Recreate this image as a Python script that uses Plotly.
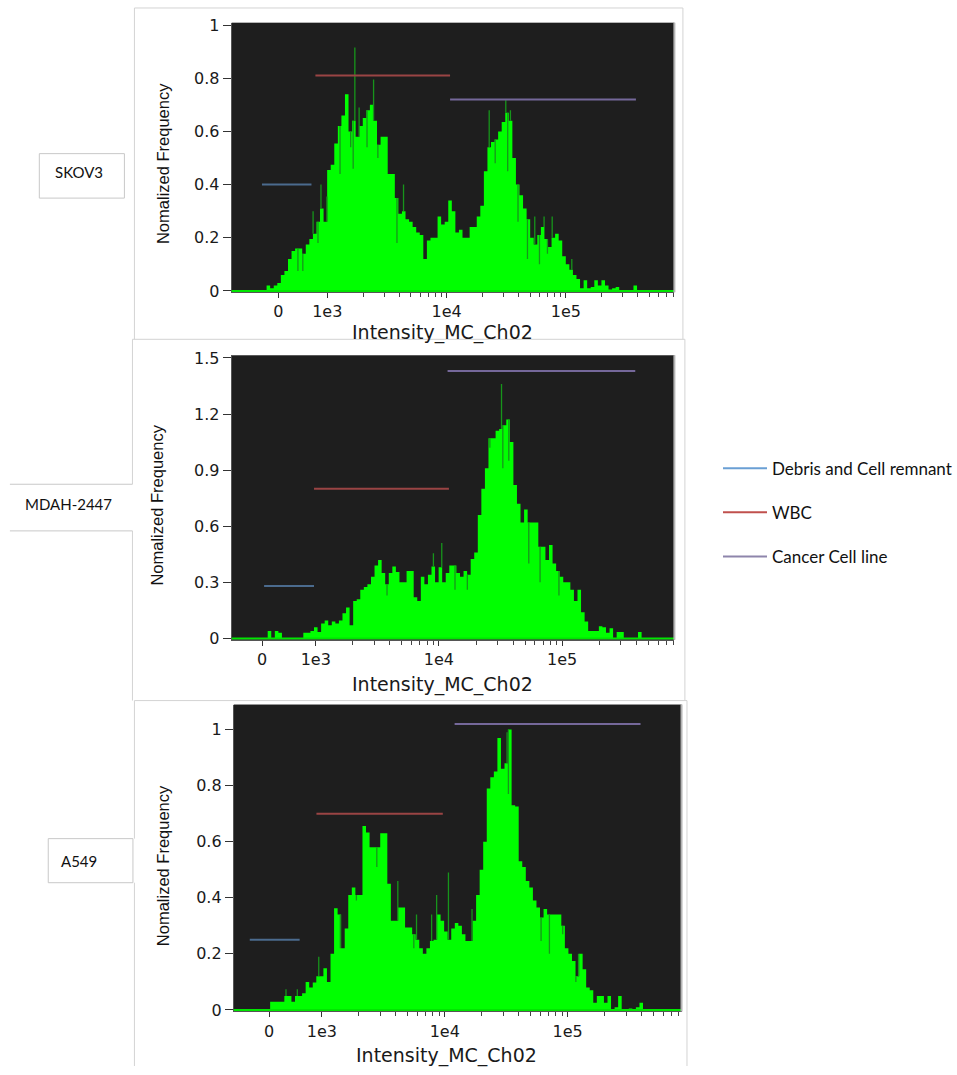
import math
import plotly.graph_objects as go

W, H = 957, 1075

# ---------------------------------------------------------------------------
# Histogram data: normalized frequency per bin. Bins are evenly spaced on the
# biexponential display scale (linear below 1e3, logarithmic above).
# ---------------------------------------------------------------------------
freq_skov3 = [
    0.02, 0.01, 0.02, 0.03, 0.06, 0.075, 0.12, 0.15, 0.16, 0.16,
    0.14, 0.175, 0.195, 0.215, 0.26, 0.31, 0.26, 0.455, 0.475, 0.555,
    0.62, 0.66, 0.74, 0.60, 0.64, 0.58, 0.62, 0.65, 0.68, 0.70,
    0.64, 0.55, 0.58, 0.58, 0.44, 0.44, 0.35, 0.29, 0.30, 0.27,
    0.26, 0.24, 0.22, 0.21, 0.12, 0.19, 0.20, 0.20, 0.28, 0.25,
    0.26, 0.34, 0.30, 0.22, 0.23, 0.20, 0.20, 0.24, 0.24, 0.28,
    0.32, 0.45, 0.54, 0.56, 0.57, 0.60, 0.635, 0.67, 0.64, 0.50,
    0.40, 0.36, 0.31, 0.27, 0.20, 0.175, 0.21, 0.24, 0.195, 0.165,
    0.20, 0.215, 0.19, 0.13, 0.10, 0.08, 0.06, 0.045, 0.01, 0.04,
    0.01, 0.015, 0.04, 0.02, 0.04, 0.02, 0.005, 0.01, 0.015, 0.0,
    0.0, 0.0, 0.0, 0.02, 0.0,
]
freq_mdah2447 = [
    0.04, 0.0, 0.04, 0.03, 0.0, 0.0, 0.0, 0.0, 0.0, 0.0,
    0.03, 0.03, 0.04, 0.06, 0.035, 0.08, 0.096, 0.07, 0.09, 0.08,
    0.096, 0.135, 0.165, 0.07, 0.20, 0.21, 0.26, 0.275, 0.29, 0.33,
    0.39, 0.42, 0.35, 0.29, 0.35, 0.385, 0.355, 0.30, 0.30, 0.36,
    0.36, 0.22, 0.20, 0.33, 0.29, 0.34, 0.385, 0.30, 0.38, 0.30,
    0.35, 0.39, 0.39, 0.35, 0.33, 0.36, 0.34, 0.425, 0.46, 0.66,
    0.80, 0.91, 1.07, 1.07, 1.11, 1.12, 1.14, 1.17, 1.05, 0.82,
    0.72, 0.62, 0.69, 0.62, 0.62, 0.62, 0.49, 0.49, 0.42, 0.50,
    0.40, 0.36, 0.33, 0.30, 0.30, 0.26, 0.20, 0.26, 0.14, 0.09,
    0.04, 0.04, 0.04, 0.065, 0.06, 0.03, 0.055, 0.0, 0.035, 0.035,
    0.0, 0.0, 0.0, 0.0, 0.035,
]
freq_a549 = [
    0.029, 0.029, 0.029, 0.029, 0.05, 0.05, 0.029, 0.05, 0.05, 0.06,
    0.10, 0.08, 0.098, 0.12, 0.12, 0.149, 0.10, 0.20, 0.363, 0.34,
    0.22, 0.29, 0.41, 0.437, 0.41, 0.41, 0.656, 0.633, 0.58, 0.58,
    0.58, 0.63, 0.63, 0.45, 0.318, 0.318, 0.365, 0.365, 0.294, 0.294,
    0.27, 0.25, 0.22, 0.20, 0.22, 0.246, 0.25, 0.34, 0.318, 0.28,
    0.25, 0.29, 0.31, 0.30, 0.27, 0.246, 0.246, 0.318, 0.41, 0.50,
    0.60, 0.79, 0.83, 0.85, 0.97, 0.86, 0.88, 1.0, 0.73, 0.725,
    0.53, 0.51, 0.46, 0.437, 0.39, 0.365, 0.33, 0.36, 0.34, 0.34,
    0.34, 0.34, 0.30, 0.22, 0.20, 0.175, 0.12, 0.20, 0.145, 0.08,
    0.07, 0.026, 0.05, 0.05, 0.026, 0.05, 0.0, 0.01, 0.05, 0.0,
    0.0, 0.005, 0.0, 0.01, 0.026, 0.0,
]

# Very narrow bins (intensity, normalized frequency) that render as thin lines
narrow_up_skov3 = [(710, 0.30), (871, 0.40), (993, 0.355), (1702, 0.916), (1849, 0.69),
                   (2443, 0.795), (4355, 0.40), (22750, 0.68), (31330, 0.717), (34270, 0.68),
                   (54800, 0.28), (65600, 0.28), (76700, 0.28), (112000, 0.12)]
narrow_low_skov3 = [(400, 0.075), (500, 0.075), (810, 0.18), (1279, 0.44), (1570, 0.54),
                    (1648, 0.46), (2153, 0.54), (2655, 0.50), (3837, 0.18), (25530, 0.48),
                    (32510, 0.45), (39660, 0.26), (47600, 0.12), (60000, 0.10), (70000, 0.14)]
narrow_up_mdah2447 = [(9020, 0.455), (10540, 0.51), (32200, 1.36)]
narrow_low_mdah2447 = [(3790, 0.23), (13500, 0.26), (17000, 0.26), (25900, 1.02), (33000, 0.91),
                       (36900, 0.95), (53600, 0.40), (66200, 0.30), (94200, 0.23)]
narrow_up_a549 = [(321, 0.074), (535, 0.074), (941, 0.19), (4150, 0.46), (5890, 0.34),
                  (7820, 0.34), (8590, 0.41), (10720, 0.49), (16670, 0.36), (32140, 0.99),
                  (122700, 0.20)]
narrow_low_a549 = [(1413, 0.22), (1910, 0.39), (2800, 0.51), (5600, 0.22), (21900, 0.66),
                   (32960, 0.77), (60800, 0.246), (71100, 0.20), (91200, 0.27), (116700, 0.10)]

# Gates: (low intensity, high intensity, drawn level), in the order of gate_names
gate_names = ["Debris and Cell remnant", "WBC", "Cancer Cell line"]
gates_skov3 = [(-335, 677, 0.40), (757, 10690, 0.81), (10690, 386000, 0.72)]
gates_mdah2447 = [(39, 968, 0.28), (968, 12050, 0.80), (11750, 392000, 1.43)]
gates_a549 = [(-365, 579, 0.25), (897, 9640, 0.70), (12030, 392000, 1.02)]

samples = ["SKOV3", "MDAH-2447", "A549"]
x_tick_values = [0, 1e3, 1e4, 1e5]
x_tick_labels = ["0", "1e3", "1e4", "1e5"]
y_dticks = [0.2, 0.3, 0.2]
y_tops = [1.009, 1.514, 1.089]

# Display-scale settings per panel
lin_width = [0.41, 0.436, 0.43]          # width of the linear region (0..1e3), in decades
bin_start = [-0.0985, 0.0462, 0.0089]    # left edge of the first bin on the display scale
bin_step = [0.02985, 0.0289, 0.0289]     # bin width on the display scale
x_view = [(-0.391, 3.319), (-0.246, 3.347), (-0.287, 3.357)]

# Panel placement in pixels: (left, top, right, bottom)
plot_px = [(233.9, 15.9, 680.8, 289.3), (233.9, 353.2, 680.8, 641.8), (236.0, 707.4, 688.0, 1018.7)]

GREEN = "#00ff00"
SPIKE = "#17951b"
gate_colors = ["#4b6b8e", "#9a4444", "#75689a"]
legend_colors = ["#6a9fd4", "#c0504d", "#8e85ab"]
TICK_FONT = dict(family="DejaVu Sans", size=16, color="#1a1a1a")


def disp(x, lin):
    """Biexponential display transform: linear near zero, log10 above 1e3."""
    if x < 1000:
        return lin * x / 1000.0
    return lin + math.log10(x / 1000.0)


def px_x(p):
    return p / W


def px_y(p):
    return 1 - p / H


freqs = [freq_skov3, freq_mdah2447, freq_a549]
ups = [narrow_up_skov3, narrow_up_mdah2447, narrow_up_a549]
lows = [narrow_low_skov3, narrow_low_mdah2447, narrow_low_a549]
gates = [gates_skov3, gates_mdah2447, gates_a549]

fig = go.Figure()
shapes = []
annotations = []
layout_axes = {}

for i in range(3):
    s = "" if i == 0 else str(i + 1)
    xa, ya = "x" + s, "y" + s
    lin = lin_width[i]
    heights = freqs[i]
    start, step = bin_start[i], bin_step[i]

    # main histogram as a filled step outline
    xs = [start + k * step for k in range(len(heights) + 1)]
    ys = list(heights) + [heights[-1]]
    fig.add_trace(go.Scatter(
        x=xs, y=ys, mode="lines", line=dict(shape="hv", width=0, color=GREEN),
        fill="tozeroy", fillcolor=GREEN, xaxis=xa, yaxis=ya,
        hoverinfo="skip", showlegend=False))

    # narrow bins: visible only where they differ from the surrounding bin
    sx, sy = [], []
    for pts, upward in ((ups[i], True), (lows[i], False)):
        for inten, val in pts:
            u = disp(inten, lin)
            k = int(math.floor((u - start) / step))
            base = heights[k] if 0 <= k < len(heights) else 0.0
            if (upward and val > base) or (not upward and val < base):
                sx += [u, u, None]
                sy += [base, val, None]
    fig.add_trace(go.Scatter(
        x=sx, y=sy, mode="lines", line=dict(color=SPIKE, width=1.3),
        xaxis=xa, yaxis=ya, hoverinfo="skip", showlegend=False))

    # gate lines
    for g, (lo, hi, lvl) in enumerate(gates[i]):
        fig.add_trace(go.Scatter(
            x=[disp(lo, lin), disp(hi, lin)], y=[lvl, lvl], mode="lines",
            line=dict(color=gate_colors[g], width=2), xaxis=xa, yaxis=ya,
            hoverinfo="skip", showlegend=False))

    # axes
    left, top, right, bottom = plot_px[i]
    x0, x1 = x_view[i]
    major = [disp(v, lin) for v in x_tick_values]
    minor = []
    for dec in (1e3, 1e4, 1e5):
        for m in range(2, 10):
            u = disp(dec * m, lin)
            if u < x1:
                minor.append(u)
    layout_axes["xaxis" + s] = dict(
        domain=[px_x(left), px_x(right)], range=[x0, x1], anchor=ya,
        tickmode="array", tickvals=major, ticktext=x_tick_labels,
        ticks="outside", ticklen=5, tickwidth=1, tickcolor="#333",
        ticklabelstandoff=0,
        minor=dict(tickmode="array", tickvals=minor, ticks="outside",
                   ticklen=4, tickwidth=1, tickcolor="#444"),
        showline=True, linecolor="#555", linewidth=1, showgrid=False, zeroline=False,
        tickfont=TICK_FONT, fixedrange=True)
    layout_axes["yaxis" + s] = dict(
        domain=[px_y(bottom), px_y(top)], range=[-0.005 * y_tops[i], y_tops[i]], anchor=xa,
        tick0=0, dtick=y_dticks[i], ticks="outside", ticklen=8, tickwidth=1, tickcolor="#333",
        showline=True, linecolor="#555", linewidth=1, showgrid=False, zeroline=False,
        tickfont=TICK_FONT, fixedrange=True)

    # baseline of the histogram and right-hand plot border
    shapes.append(dict(type="line", xref=xa + " domain", yref=ya, x0=0, x1=1, y0=0, y1=0,
                       line=dict(color="#00e600", width=2)))
    shapes.append(dict(type="line", xref=xa + " domain", yref=ya + " domain", x0=1, x1=1,
                       y0=0, y1=1, line=dict(color="#b5b5b5", width=2)))

# axis titles
ytitle_pos = [(164, 158.8), (158.6, 505.5), (164, 870.9)]
xtitle_pos = [(447, 330), (447, 687), (451, 1063)]
for i in range(3):
    annotations.append(dict(
        text="Nomalized Frequency", x=px_x(ytitle_pos[i][0]), y=px_y(ytitle_pos[i][1]),
        xref="paper", yref="paper", showarrow=False, textangle=-90,
        xanchor="center", yanchor="middle",
        font=dict(family="Liberation Sans", size=16.5, color="#111")))
    annotations.append(dict(
        text="Intensity_MC_Ch02", x=px_x(xtitle_pos[i][0]), y=px_y(xtitle_pos[i][1]),
        xref="paper", yref="paper", showarrow=False, xanchor="center", yanchor="middle",
        font=dict(family="DejaVu Sans", size=19, color="#1a1a1a")))

# panel frames
FRAME = "#d3d3d3"


def seg(xa_, ya_, xb_, yb_, color=FRAME):
    shapes.append(dict(type="line", xref="paper", yref="paper",
                       x0=px_x(xa_), y0=px_y(ya_), x1=px_x(xb_), y1=px_y(yb_),
                       line=dict(color=color, width=1)))


seg(135.7, 1, 689.4, 1); seg(135.7, 1, 135.7, 337); seg(689.4, 1, 689.4, 337)
seg(133.7, 337, 691.4, 337); seg(133.7, 337, 133.7, 484); seg(133.7, 531.3, 133.7, 703.4)
seg(691.4, 337, 691.4, 703.4)
seg(135.7, 703.4, 693.5, 703.4); seg(135.7, 703.4, 135.7, 843.4); seg(135.7, 888.1, 135.7, 1074)
seg(693.5, 703.4, 693.5, 1074)

# sample label boxes
BOX = "#c8c8c8"
shapes.append(dict(type="rect", xref="paper", yref="paper", x0=px_x(39.7), x1=px_x(125.6),
                   y0=px_y(193.8), y1=px_y(148.7), line=dict(color=BOX, width=1), fillcolor="white"))
seg(10, 484, 133.7, 484, BOX); seg(10, 531.3, 133.7, 531.3, BOX)
shapes.append(dict(type="rect", xref="paper", yref="paper", x0=px_x(48.7), x1=px_x(134.2),
                   y0=px_y(888.1), y1=px_y(843.4), line=dict(color=BOX, width=1), fillcolor="white"))

label_pos = [(53, 167.5), (23, 504.4), (60, 865.8)]
for name, (lx, ly) in zip(samples, label_pos):
    annotations.append(dict(text=name, x=px_x(lx), y=px_y(ly), xref="paper", yref="paper",
                            showarrow=False, xanchor="left", yanchor="middle",
                            font=dict(family="Lato", size=15, color="#111")))

# legend entries for the gate colours
for g, name in enumerate(gate_names):
    fig.add_trace(go.Scatter(x=[None], y=[None], mode="lines", name=name,
                             legendgroup=name, line=dict(color=legend_colors[g], width=2),
                             showlegend=True))

fig.update_layout(
    width=W, height=H, margin=dict(l=0, r=0, t=0, b=0),
    paper_bgcolor="white", plot_bgcolor="#1e1e1e",
    shapes=shapes, annotations=annotations,
    legend=dict(x=px_x(725), y=px_y(450), xanchor="left", yanchor="top",
                font=dict(family="Lato", size=17, color="#111"),
                tracegroupgap=19, bgcolor="rgba(0,0,0,0)", itemwidth=44),
    **layout_axes)

fig.write_html("out.html", config={"displayModeBar": False})
